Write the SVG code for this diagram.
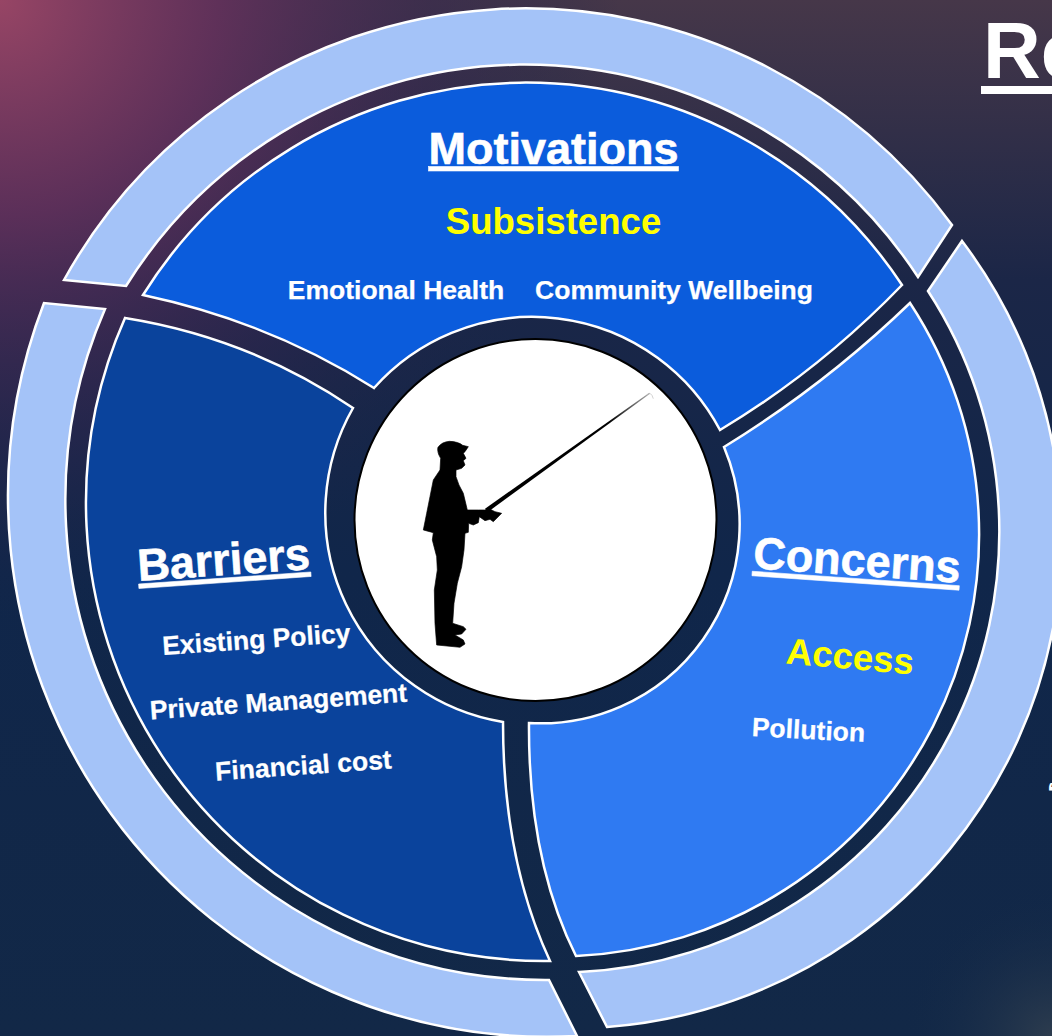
<svg xmlns="http://www.w3.org/2000/svg" width="1052" height="1036" viewBox="0 0 1052 1036">
<defs>
<linearGradient id="bgTop" x1="0" y1="0" x2="0" y2="1"><stop offset="0" stop-color="#463749"/><stop offset="0.27" stop-color="#1b2647"/><stop offset="0.55" stop-color="#10264a"/><stop offset="1" stop-color="#122847"/></linearGradient>
<radialGradient id="bgGlow" gradientUnits="userSpaceOnUse" cx="0" cy="0" r="620"><stop offset="0" stop-color="#974565" stop-opacity="1"/><stop offset="0.35" stop-color="#64305c" stop-opacity="0.85"/><stop offset="0.7" stop-color="#33264f" stop-opacity="0.5"/><stop offset="1" stop-color="#1a2547" stop-opacity="0"/></radialGradient>
<radialGradient id="bgCorner" gradientUnits="userSpaceOnUse" cx="1052" cy="1036" r="150"><stop offset="0" stop-color="#334150" stop-opacity="0.8"/><stop offset="1" stop-color="#122847" stop-opacity="0"/></radialGradient>
<linearGradient id="rod" gradientUnits="userSpaceOnUse" x1="320" y1="420" x2="810" y2="70"><stop offset="0" stop-color="#000"/><stop offset="0.75" stop-color="#000"/><stop offset="1" stop-color="#aaa"/></linearGradient>
</defs>
<style>
.seg{stroke:#fff;stroke-width:2.5;stroke-linejoin:miter}
.ring{fill:#a4c3f8}
text{font-family:"Liberation Sans",Arial,sans-serif;font-weight:700;fill:#fff;text-anchor:middle}
.h{font-size:45px;text-decoration:underline;stroke:#fff;stroke-width:.6px}
.y{fill:#ffff00;font-size:36.6px}
.s{font-size:26.5px;stroke:#fff;stroke-width:.25px}
</style>
<rect id="bg" width="1052" height="1036" fill="url(#bgTop)"/>
<rect width="1052" height="1036" fill="url(#bgGlow)"/>
<rect width="1052" height="1036" fill="url(#bgCorner)"/>
<g id="ring-top"><path class="seg ring" d="M64 280A528 528 0 0 1 952 225L918 277A470 470 0 0 0 126 286Z"/></g>
<g id="ring-right"><path class="seg ring" d="M962 241A491 491 0 0 1 607 1027L579 972A441 441 0 0 0 928 291Z"/></g>
<g id="ring-left"><path class="seg ring" d="M44 303A540 540 0 0 0 577 1036L549 980A480 480 0 0 1 105 309Z"/></g>
<g id="motivations"><path class="seg" fill="#0b5cdc" d="M143 295A451 451 0 0 1 902 285Q820 370 720 430A212 212 0 0 0 374 388Q270 322 143 295Z"/>
<text class="h" x="553.5" y="163.500">Motivations</text>
<text class="y" x="553.5" y="234">Subsistence</text>
<text class="s" x="396" y="299">Emotional Health</text>
<text class="s" x="674" y="299">Community Wellbeing</text></g>
<g id="barriers"><path class="seg" fill="#0a439c" d="M125 318A458 458 0 0 0 550 961Q503 860 503 722A212 212 0 0 1 353 408Q250 338 125 318Z"/>
<text class="h" transform="translate(224.500 575) rotate(-4)">Barriers</text>
<text class="s" transform="translate(257 648.500) rotate(-4)">Existing Policy</text>
<text class="s" transform="translate(279 710.500) rotate(-4)">Private Management</text>
<text class="s" transform="translate(304 774.500) rotate(-4)">Financial cost</text></g>
<g id="concerns"><path class="seg" fill="#2f7af2" d="M910 303A422 422 0 0 1 576 956Q528 860 529 723A199 199 0 0 0 724 447Q825 385 910 303Z"/>
<text class="h" transform="translate(856 575.500) rotate(4)">Concerns</text>
<text class="y" transform="translate(849 669) rotate(5)">Access</text>
<text class="s" transform="translate(808 739) rotate(3)">Pollution</text></g>
<g id="fisher"><circle cx="535.5" cy="520" r="181" fill="#fff" stroke="#000" stroke-width="2"/>
<g transform="translate(380 370) scale(.3333)">
<path fill="#000" stroke="#000" stroke-width="2" stroke-linejoin="round" d="M180 300L182 265Q170 245 174 232Q185 216 208 214Q235 215 248 226L265 230L255 245L250 250L258 265L250 272L255 285L245 295L228 300L228 320Q235 345 250 370L262 420L295 420L315 420L325 415L345 425L365 430L340 455L330 448L315 452L298 440L295 458L280 465L266 460L265 487L255 490L252 540L245 590L232 640L222 700L218 760L250 770L258 778L245 792L225 795L250 810L255 822L240 832L170 825L165 760L163 660L172 600L170 560L157 510L160 488L130 480L140 430L150 380L160 330Z"/>
<path fill="url(#rod)" d="M315 416L808 68L810 71L325 425Z"/>
<path fill="none" stroke="#bbb" stroke-width="2" d="M800 75Q813 62 820 86"/>
</g></g>
<g id="title"><text x="983" y="78" style="font-size:80px;text-anchor:start">Re</text><rect x="981" y="86" width="71" height="8" fill="#fff"/></g>
<text x="1047" y="802" style="font-size:28px;text-anchor:start">“</text>
</svg>
